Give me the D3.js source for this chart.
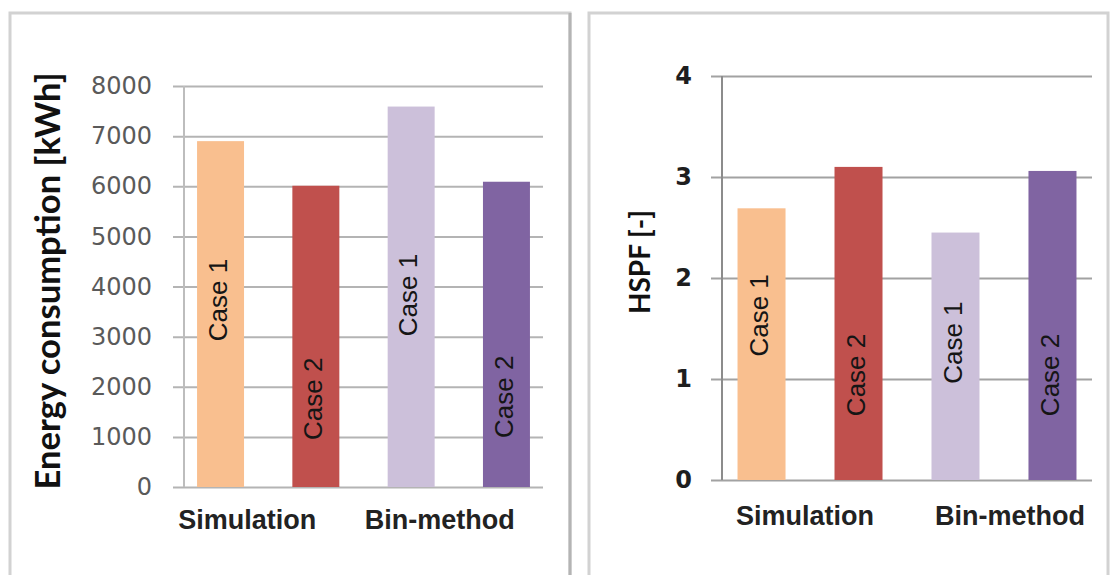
<!DOCTYPE html>
<html>
<head>
<meta charset="utf-8">
<script src="https://cdn.jsdelivr.net/npm/d3@7"></script>
<style>
  body { margin: 0; background: #ffffff; }
</style>
</head>
<body>
<div id="chart"></div>
<script>
// data
var categories = ["Simulation", "Bin-method"];
var cases = ["Case 1", "Case 2"];
// order: Simulation case 1, Simulation case 2, Bin-method case 1, Bin-method case 2
var energyValues = [6900, 6010, 7590, 6090];
var hspfValues = [2.69, 3.10, 2.45, 3.06];
var energyTicks = [0, 1000, 2000, 3000, 4000, 5000, 6000, 7000, 8000];
var hspfTicks = [0, 1, 2, 3, 4];

var barColors = ["#f9bf8f", "#c0504d", "#ccc0da", "#8064a2"];

var width = 1110,
  height = 575;

var svg = d3
  .select("#chart")
  .append("svg")
  .attr("width", width)
  .attr("height", height);

function drawPanel(o, values, ticks) {
  var g = svg.append("g");

  // panel frame (bottom edge runs off the picture)
  g.append("rect")
    .attr("x", o.frame[0])
    .attr("y", o.frame[1])
    .attr("width", o.frame[2])
    .attr("height", 700)
    .attr("fill", "#ffffff")
    .attr("stroke", "#d2d2d2")
    .attr("stroke-width", 3);

  var keys = [];
  categories.forEach(function (c) {
    cases.forEach(function (k) {
      keys.push(c + "|" + k);
    });
  });
  var data = keys.map(function (k, i) {
    return { key: k, cat: k.split("|")[0], label: k.split("|")[1], value: values[i], color: barColors[i] };
  });

  var y = d3.scaleLinear().domain([0, d3.max(ticks)]).range([o.bottom, o.top]);
  var x = d3
    .scaleBand()
    .domain(keys)
    .range([o.left, o.right])
    .paddingInner(o.padInner)
    .paddingOuter(o.padOuter);

  // gridlines and tick labels
  var axis = g
    .append("g")
    .attr("transform", "translate(" + (o.left - 11) + ",0)")
    .call(
      d3.axisLeft(y)
        .tickValues(ticks)
        .tickSize(-(o.right - o.left + 11))
        .tickPadding(o.tickPad)
        .tickFormat(d3.format("d"))
    );
  axis.select(".domain").remove();
  axis.selectAll(".tick line")
    .attr("stroke", o.gridColor)
    .attr("stroke-width", 2);
  axis.selectAll(".tick text")
    .attr("font-family", o.tickFont)
    .attr("font-weight", o.tickWeight)
    .attr("font-size", o.tickSize + "px")
    .attr("fill", o.tickColor);

  // vertical axis line
  g.append("line")
    .attr("x1", o.left)
    .attr("x2", o.left)
    .attr("y1", o.top)
    .attr("y2", o.bottom)
    .attr("stroke", o.axisColor)
    .attr("stroke-width", 2);

  g.selectAll(".bar")
    .data(data)
    .join("rect")
    .attr("class", "bar")
    .attr("x", function (d) { return x(d.key); })
    .attr("width", x.bandwidth())
    .attr("y", function (d) { return y(d.value); })
    .attr("height", function (d) { return y(0) - y(d.value); })
    .attr("fill", function (d) { return d.color; });

  // case labels written up the bars
  g.selectAll(".barlabel")
    .data(data)
    .join("text")
    .attr("class", "barlabel")
    .attr("transform", function (d, i) {
      var cx = x(d.key) + x.bandwidth() / 2;
      return "translate(" + cx + "," + y(o.labelAt[i]) + ") rotate(-90)";
    })
    .attr("dy", "0.24em")
    .attr("text-anchor", "middle")
    .attr("font-family", "'Liberation Sans', Arial, sans-serif")
    .attr("font-size", "26px")
    .attr("fill", "#151515")
    .text(function (d) { return d.label; });

  // category names under each pair
  g.selectAll(".cat")
    .data(categories)
    .join("text")
    .attr("class", "cat")
    .attr("x", function (c, i) {
      var a = x(c + "|" + cases[0]);
      var b = x(c + "|" + cases[1]) + x.bandwidth();
      return (a + b) / 2 + o.catShift[i];
    })
    .attr("y", o.catY)
    .attr("text-anchor", "middle")
    .attr("font-family", "'Liberation Sans', Arial, sans-serif")
    .attr("font-weight", "bold")
    .attr("font-size", "27px")
    .attr("fill", "#222222")
    .text(function (c) { return c; });

  // y axis title
  g.append("text")
    .attr("transform", "translate(" + o.titleX + "," + o.titleY + ") rotate(-90)")
    .attr("text-anchor", "middle")
    .attr("font-family", "Lato, 'Open Sans', sans-serif")
    .attr("font-weight", "bold")
    .attr("font-size", o.titleSize + "px")
    .attr("fill", "#111111")
    .attr("textLength", o.titleLen)
    .attr("lengthAdjust", "spacingAndGlyphs")
    .text(o.title);
}

drawPanel(
  {
    frame: [10, 13, 560],
    left: 184, right: 543, top: 86, bottom: 487,
    padInner: 0.507, padOuter: 0.137,
    tickPad: 21, tickFont: "'DejaVu Sans', Verdana, sans-serif", tickWeight: "normal",
    tickSize: 24, tickColor: "#5a5a5a",
    gridColor: "#b4b4b4", axisColor: "#bdbdbd",
    labelAt: [3730, 1760, 3830, 1800],
    catShift: [-21, -19], catY: 529,
    title: "Energy consumption [kWh]", titleX: 60, titleY: 281, titleSize: 35, titleLen: 417
  },
  energyValues,
  energyTicks
);

drawPanel(
  {
    frame: [589, 13, 519],
    left: 722, right: 1092, top: 76, bottom: 480,
    padInner: 0.505, padOuter: 0.16,
    tickPad: 19, tickFont: "'DejaVu Sans', Verdana, sans-serif", tickWeight: "bold",
    tickSize: 24, tickColor: "#1e1e1e",
    gridColor: "#a2a2a2", axisColor: "#8c8c8c",
    labelAt: [1.63, 1.04, 1.36, 1.04],
    catShift: [-5, 6], catY: 525,
    title: "HSPF [-]", titleX: 650, titleY: 262, titleSize: 29, titleLen: 104
  },
  hspfValues,
  hspfTicks
);

// darker right edge of the left panel
svg.append("line")
  .attr("x1", 570).attr("x2", 570)
  .attr("y1", 13).attr("y2", height)
  .attr("stroke", "#b4b4b4")
  .attr("stroke-width", 3);
</script>
</body>
</html>
